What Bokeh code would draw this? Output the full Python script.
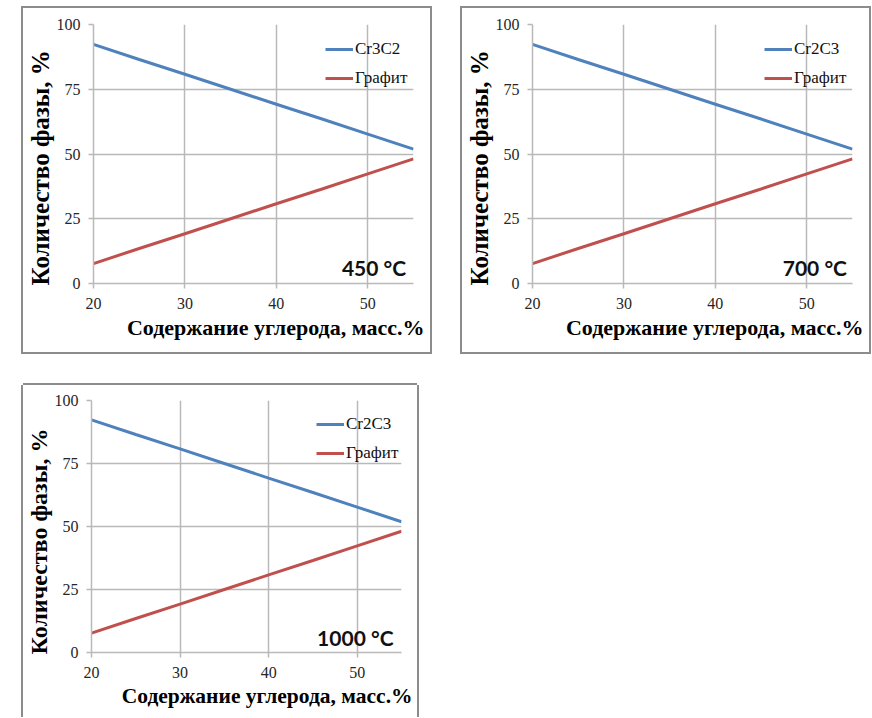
from bokeh.plotting import figure
from bokeh.layouts import column, row
from bokeh.models import Spacer, Label, Title, Legend, LegendItem, Range1d
from bokeh.embed import file_html
from bokeh.resources import INLINE

# ---- data ----
carbon = [20, 25, 30, 35, 40, 45, 50, 55]
carbide_450 = [92.3, 86.5, 80.8, 75.0, 69.2, 63.5, 57.7, 51.9]
graphite_450 = [7.7, 13.5, 19.2, 25.0, 30.8, 36.5, 42.3, 48.1]
carbide_700 = [92.3, 86.5, 80.8, 75.0, 69.2, 63.5, 57.7, 51.9]
graphite_700 = [7.7, 13.5, 19.2, 25.0, 30.8, 36.5, 42.3, 48.1]
carbide_1000 = [92.3, 86.5, 80.8, 75.0, 69.2, 63.5, 57.7, 51.9]
graphite_1000 = [7.7, 13.5, 19.2, 25.0, 30.8, 36.5, 42.3, 48.1]
names_450 = ["Cr3C2", "Графит"]
names_700 = ["Cr2C3", "Графит"]
names_1000 = ["Cr2C3", "Графит"]
temps = ["450 °C", "700 °C", "1000 °C"]
x_ticks = [20, 30, 40, 50]
y_ticks = [0, 25, 50, 75, 100]
x_title = "Содержание углерода, масс.%"
y_title = "Количество фазы, %"

BLUE = "#4F81BD"
RED = "#C0504D"
GRID = "#b9b9b9"
SERIF = "'Liberation Serif', 'Times New Roman', serif"


def make_chart(width, height, ml, mr, mt, mb, carbide, graphite, names, temp,
               legend_loc, temp_xy, xt_off, yt_off, xl_size, yl_size, border_css):
    p = figure(width=width, height=height, output_backend="svg", toolbar_location=None,
               x_range=Range1d(20, 55), y_range=Range1d(0, 100),
               min_border_left=ml, min_border_right=mr, min_border_top=mt,
               min_border_bottom=mb, styles=border_css)
    p.outline_line_color = None
    p.background_fill_color = "white"
    p.border_fill_color = "white"

    for ax, ticks in ((p.xaxis[0], x_ticks), (p.yaxis[0], y_ticks)):
        ax.ticker = ticks
        ax.axis_line_color = GRID
        ax.axis_line_width = 1.5
        ax.major_tick_line_color = GRID
        ax.major_tick_line_width = 1.5
        ax.major_tick_out = 5
        ax.major_tick_in = 0
        ax.minor_tick_line_color = None
        ax.major_label_text_font = SERIF
        ax.major_label_text_font_size = "16px"
        ax.major_label_text_color = "#262626"
    p.xaxis.major_label_standoff = 9
    p.yaxis.major_label_standoff = 8

    p.xgrid.ticker = x_ticks
    p.ygrid.ticker = y_ticks
    p.grid.grid_line_color = GRID
    p.grid.grid_line_width = 1.5

    r1 = p.line(carbon, carbide, line_color=BLUE, line_width=3)
    r2 = p.line(carbon, graphite, line_color=RED, line_width=3)

    legend = Legend(items=[LegendItem(label=names[0], renderers=[r1]),
                           LegendItem(label=names[1], renderers=[r2])],
                    location=legend_loc, glyph_width=28, glyph_height=20,
                    label_height=20, label_standoff=2, spacing=9, padding=0, margin=0,
                    label_text_font=SERIF, label_text_font_size="17px",
                    label_text_color="#111111", border_line_color=None,
                    background_fill_alpha=0)
    p.add_layout(legend)

    p.add_layout(Label(x=temp_xy[0], y=temp_xy[1], text=temp, text_align="right",
                       text_baseline="middle", text_font="Lato",
                       text_font_style="bold", text_font_size="21px",
                       text_color="#111111"))

    p.add_layout(Title(text=x_title, align="right", offset=xt_off, text_font=SERIF,
                       text_font_style="bold", text_font_size=xl_size,
                       text_color="#000000", standoff=2), "below")
    p.add_layout(Title(text=y_title, align="left", offset=yt_off, text_font=SERIF,
                       text_font_style="bold", text_font_size=yl_size,
                       text_color="#000000", standoff=0), "left")
    return p


border_full = {"box-shadow": "0 0 0 2px #8c8c8c"}
border_open = {"box-shadow": "-2px 0 0 0 #8c8c8c, 2px 0 0 0 #8c8c8c, 0 -2px 0 0 #8c8c8c"}

f1 = make_chart(407, 344, 70, 17, 16, 69, carbide_450, graphite_450, names_450, temps[0],
                (232, 195), (54.2, 6.3), -11, -2, "22px", "25px", border_full)
f2 = make_chart(407, 344, 70, 17, 16, 69, carbide_700, graphite_700, names_700, temps[1],
                (232, 195), (54.4, 6.3), -11, -2, "22px", "25px", border_full)
f3 = make_chart(394, 332, 68, 16, 15, 65, carbide_1000, graphite_1000, names_1000, temps[2],
                (225, 189), (54.1, 6.1), -11, -2, "21.5px", "24px", border_open)

layout = column(
    Spacer(width=10, height=8),
    row(Spacer(width=23, height=344), f1, Spacer(width=32, height=344), f2),
    Spacer(width=10, height=33),
    row(Spacer(width=23, height=332), f3),
)

open("out.html", "w").write(file_html(layout, INLINE))
